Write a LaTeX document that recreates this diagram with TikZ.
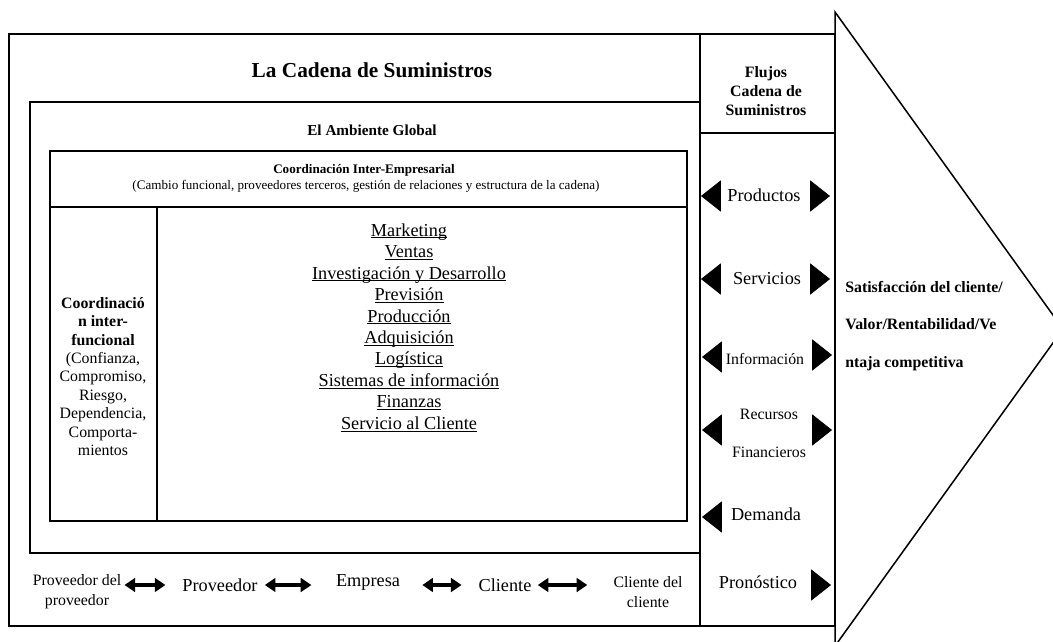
\documentclass[tikz,border=0pt]{standalone}
\usepackage{fontspec}
\setmainfont{Liberation Serif}
\usepackage{tikz}
\usetikzlibrary{arrows.meta}
\usetikzlibrary{positioning}
\newcommand{\uln}[1]{\setbox0\hbox{#1}\rlap{\rule[-1.4pt]{\wd0}{0.6pt}}\box0}
\tikzset{
frame/.style = { draw = black, line width = 1.3pt },
heading/.style = { font = \fontsize{10.4}{12.5}\selectfont\bfseries, align = center },
flow/.style = { font = \fontsize{12}{14}\selectfont, inner sep = 0pt },
small flow/.style = { font = \fontsize{10.4}{25}\selectfont, align = center, inner sep = 0pt },
chain/.style = { font = \fontsize{12}{14}\selectfont, inner sep = 2pt },
small chain/.style = { font = \fontsize{10.4}{13}\selectfont, align = center, inner sep = 2pt },
link/.style = { {Triangle[length = 7pt, width = 9pt]}-{Triangle[length = 7pt, width = 9pt]}, line width = 2.2pt },
}
\tikzset{
pics/left flow/.style = {
        code = {
        \path[draw = black, fill = black] (-9.5, 0) -- (9.5, -15) -- (9.5, 15) -- cycle;
        }
    },
pics/right flow/.style = {
        code = {
        \path[draw = black, fill = black] (9.5, 0) -- (-9.5, -15) -- (-9.5, 15) -- cycle;
        }
    }
}
\begin{document}
\begin{tikzpicture}[x = 0.657pt, y = -0.657pt]
    \useasboundingbox[fill = white] (0, 0) rectangle (1053, 641);
    \clip (0, 0) rectangle (1053, 641);
    % boxes
    \draw[frame] (9, 34) rectangle (835, 626);
    \draw[frame] (700, 34) -- (700, 626);
    \draw[frame] (700, 133) -- (835, 133);
    \draw[frame] (30, 102) rectangle (700, 553);
    \draw[frame] (50, 151) rectangle (687, 521);
    \draw[frame] (50, 207) -- (687, 207);
    \draw[frame] (157, 207) -- (157, 521);
    \draw[line width = 1pt] (835, 646) -- (835, 12) -- (1063, 329) -- cycle;
    % titles
    \node[font = \fontsize{14}{16}\selectfont\bfseries] (cadena) at (372, 70) {La Cadena de Suministros};
    \node[font = \fontsize{10}{12}\selectfont\bfseries] (ambiente) at (372, 130) {El Ambiente Global};
    \node[font = \fontsize{8.6}{10}\selectfont\bfseries] (interemp) at (364, 170) {Coordinación Inter-Empresarial};
    \node[font = \fontsize{8.6}{10}\selectfont] (cambio) at (366, 186) {(Cambio funcional, proveedores terceros, gestión de relaciones y estructura de la cadena)};
    \node[font = \fontsize{10.4}{12.1}\selectfont, align = center] (interfunc) at (103, 376.5) {\textbf{Coordinació}\\\textbf{n inter-}\\\textbf{funcional}\\(Confianza,\\Compromiso,\\Riesgo,\\Dependencia,\\Comporta-\\mientos};
    \node[font = \fontsize{12}{14.1}\selectfont, align = center] (areas) at (409, 327.5) {\uln{Marketing}\\\uln{Ventas}\\\uln{Investigación y Desarrollo}\\\uln{Previsión}\\\uln{Producción}\\\uln{Adquisición}\\\uln{Logística}\\\uln{Sistemas de información}\\\uln{Finanzas}\\\uln{Servicio al Cliente}};
    % flows
    \node[heading] (flujos) at (766, 91) {Flujos\\Cadena de\\Suministros};
    \node[flow] (productos) at (764, 195) {Productos};
    \draw (711, 196) pic{left flow};
    \draw (820, 196) pic{right flow};
    \node[flow] (servicios) at (767, 279) {Servicios};
    \draw (711, 279) pic{left flow};
    \draw (820, 279) pic{right flow};
    \node[small flow] (informacion) at (765, 359) {Información};
    \draw (712, 357) pic{left flow};
    \draw (822, 355) pic{right flow};
    \node[small flow] (recursos) at (769, 433) {Recursos\\Financieros};
    \draw (712, 430) pic{left flow};
    \draw (822, 430) pic{right flow};
    \node[flow] (demanda) at (766, 514) {Demanda};
    \draw (712, 517) pic{left flow};
    \node[flow] (pronostico) at (758, 582) {Pronóstico};
    \draw (821, 585) pic{right flow};
    \node[font = \fontsize{10.4}{24.6}\selectfont\bfseries, align = left, anchor = west, inner sep = 0pt] (satisf) at (845, 326) {Satisfacción del cliente/\\Valor/Rentabilidad/Ve\\ntaja competitiva};
    % chain
    \node[small chain] (provprov) at (77, 592) {Proveedor del\\proveedor};
    \node[chain] (proveedor) at (220, 585) {Proveedor};
    \node[chain] (empresa) at (368, 582) {Empresa};
    \node[chain] (cliente) at (505, 585) {Cliente};
    \node[small chain] (clicli) at (648, 592) {Cliente del\\cliente};
    \draw[link, shorten > = 9pt] (provprov.east |- proveedor) -- (proveedor);
    \draw[link, shorten < = 2.6pt, shorten > = 14pt] (proveedor) -- (empresa.west |- proveedor);
    \draw[link, shorten < = 12.5pt, shorten > = 9pt] (empresa.east |- cliente) -- (cliente);
    \draw[link, shorten < = 2pt, shorten > = 15pt] (cliente) -- (clicli.west |- cliente);
  \end{tikzpicture}
\end{document}
